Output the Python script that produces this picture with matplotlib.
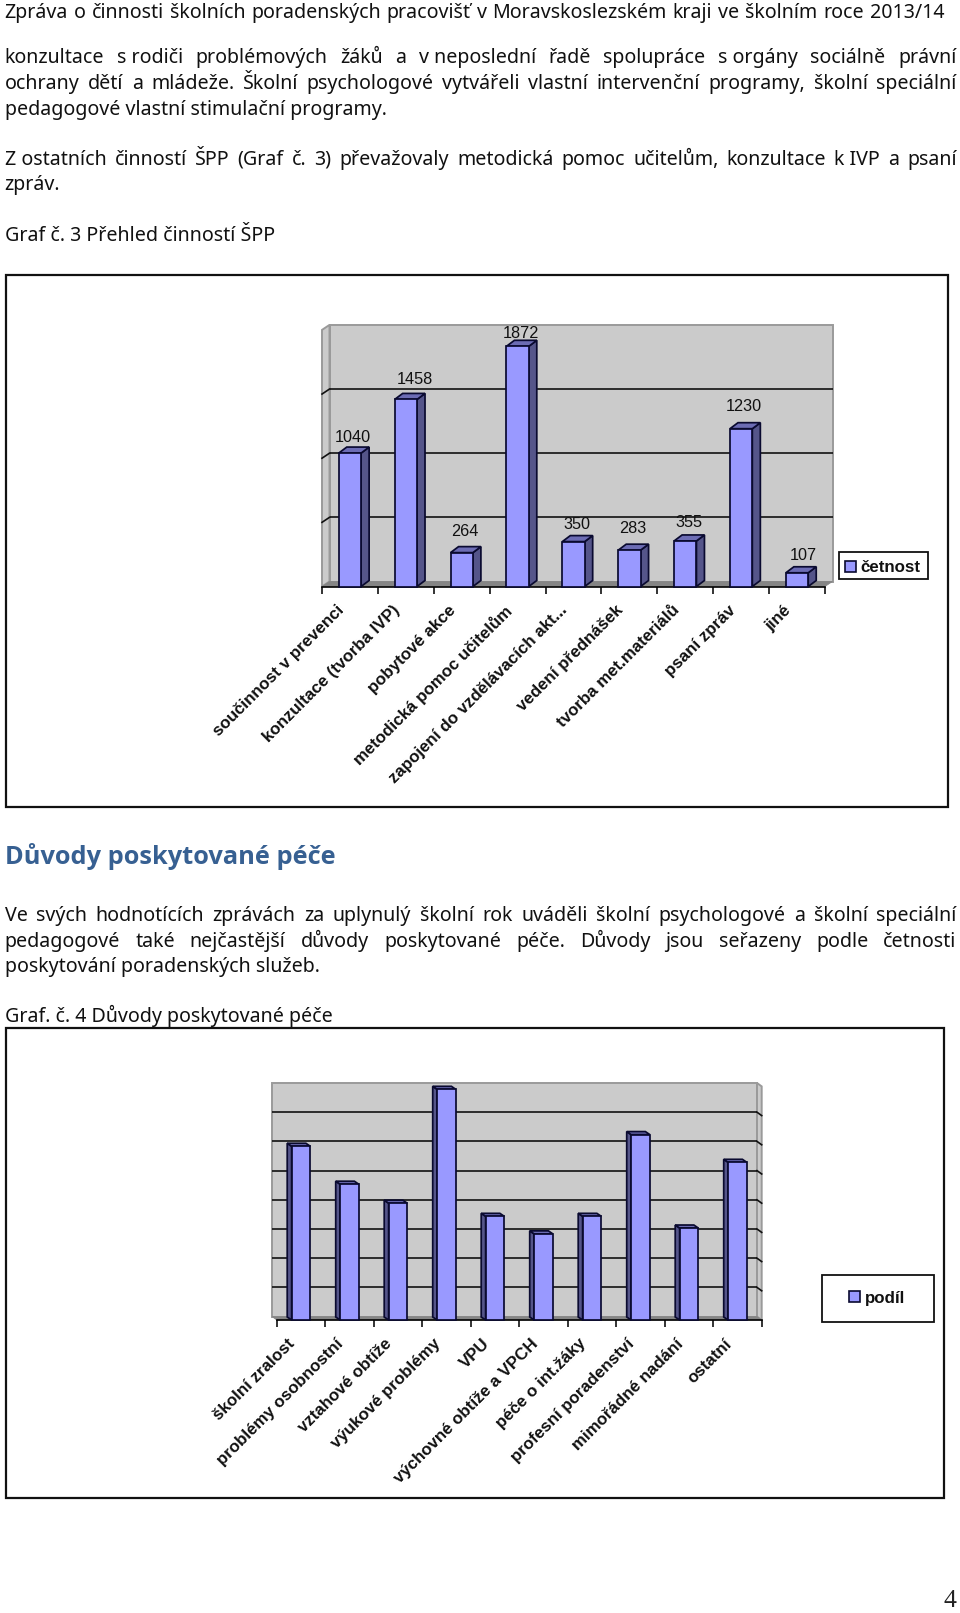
import matplotlib
matplotlib.use("Agg")
import matplotlib.pyplot as plt
from matplotlib.patches import Polygon, Rectangle, Patch
from matplotlib.transforms import Affine2D
import numpy as np

W, H = 960, 1613

# ---------- data ----------
cats1 = ["součinnost v prevenci", "konzultace (tvorba IVP)", "pobytové akce",
         "metodická pomoc učitelům", "zapojení do vzdělávacích akt...",
         "vedení přednášek", "tvorba met.materiálů", "psaní zpráv", "jiné"]
vals1 = [1040, 1458, 264, 1872, 350, 283, 355, 1230, 107]
series1 = "četnost"

cats2 = ["školní zralost", "problémy osobnostní", "vztahové obtíže",
         "výukové problémy", "VPU", "výchovné obtíže a VPCH", "péče o int.žáky",
         "profesní poradenství", "mimořádné nadání", "ostatní"]
vals2 = [11.9, 9.3, 8.0, 15.8, 7.1, 5.9, 7.1, 12.7, 6.3, 10.8]
series2 = "podíl"

header = "Zpráva o činnosti školních poradenských pracovišť v Moravskoslezském kraji ve školním roce 2013/14"
heading = "Důvody poskytované péče"
# (text, baseline, justified)
body = [
    ("konzultace s~rodiči problémových žáků a v~neposlední řadě spolupráce s~orgány sociálně právní", 63.3, True),
    ("ochrany dětí a mládeže. Školní psychologové vytvářeli vlastní intervenční programy, školní speciální", 89.3, True),
    ("pedagogové vlastní stimulační programy.", 115, False),
    ("Z~ostatních činností ŠPP (Graf č. 3) převažovaly metodická pomoc učitelům, konzultace k~IVP a psaní", 165, True),
    ("zpráv.", 190, False),
    ("Graf č. 3 Přehled činností ŠPP", 241, False),
    ("Ve svých hodnotících zprávách za uplynulý školní rok uváděli školní psychologové a školní speciální", 921, True),
    ("pedagogové také nejčastější důvody poskytované péče. Důvody jsou seřazeny podle četnosti", 946.7, True),
    ("poskytování poradenských služeb.", 972.3, False),
    ("Graf. č. 4 Důvody poskytované péče", 1021.7, False),
]

# ---------- style ----------
BODY_FONT = "Noto Sans"
HEAD_FONT = "Open Sans"
CHART_FONT = "Liberation Sans"
WALL, WALL_EDGE, FLOOR = "#CBCBCB", "#9A9A9A", "#858585"
FRONT, SIDE, TOP = "#9999FF", "#55558A", "#6C6CB4"
LW = 1.25

fig = plt.figure(figsize=(W / 100, H / 100), dpi=100, facecolor="white")
px = Affine2D().scale(1 / W, -1 / H).translate(0, 1) + fig.transFigure
renderer = fig.canvas.get_renderer()


def text_width(t):
    return t.get_window_extent(renderer).width


def fit_size(s, width, **kw):
    size = 14.0
    for _ in range(4):
        t = fig.text(0, 0, s, fontsize=size, **kw)
        size *= width / text_width(t)
        t.remove()
    return size


body_size = fit_size(header, 932, family=BODY_FONT)


def justified(line, y, left, right):
    words = [w.replace("~", " ") for w in line.split(" ")]
    ts = [fig.text(0, y, w, transform=px, family=BODY_FONT, fontsize=body_size,
                   color="#111111", va="baseline") for w in words]
    widths = [text_width(t) for t in ts]
    gap = (right - left - sum(widths)) / (len(words) - 1)
    x = left
    for t, w in zip(ts, widths):
        t.set_x(x)
        x += w + gap


justified(header, 18.3, 4.7, 944.3)

head_size = fit_size(heading, 330, family=HEAD_FONT, fontweight="bold")
fig.text(5, 864.3, heading, transform=px, family=HEAD_FONT, fontweight="bold",
         fontsize=head_size, color="#376092", va="baseline")

L, R = 4.7, 956.5
for line, y, just in body:
    if just:
        justified(line, y, L, R)
    else:
        fig.text(L, y, line.replace("~", " "), transform=px, family=BODY_FONT, fontsize=body_size,
                 color="#111111", va="baseline")

fig.text(956, 1607, "4", transform=px, family="Liberation Serif", fontsize=18.5, ha="right", va="baseline", color="#222222")

# chart frames
for x0, y0, x1, y1 in [(5.5, 275, 948, 807), (5.5, 1028, 944, 1498)]:
    fig.add_artist(Rectangle((x0, y0), x1 - x0, y1 - y0, transform=px, fc="none", ec="#111111", lw=1.6))


def chart(left, right, base, top, cats, vals, vmax, step, wall_d, bar_d, width,
          val_offsets=None):
    ax = fig.add_axes([left / W, 1 - base / H, (right - left) / W, (base - top) / H])
    n = len(cats)
    ax.set_xlim(-0.5, n - 0.5)
    ax.set_ylim(0, vmax)
    ax.patch.set_visible(False)
    for s in ("left", "right", "top"):
        ax.spines[s].set_visible(False)
    ax.spines["bottom"].set_linewidth(1.2)
    xu = n / (right - left)
    yu = vmax / (base - top)
    x0, x1 = -0.5, n - 0.5
    dx, dy = wall_d[0] * xu, wall_d[1] * yu

    # wall, floor, side wall
    ax.add_patch(Polygon([(x0 + dx, dy), (x1 + dx, dy), (x1 + dx, vmax + dy), (x0 + dx, vmax + dy)],
                         fc=WALL, ec=WALL_EDGE, lw=1.4, clip_on=False, zorder=1))
    ax.add_patch(Polygon([(x0, 0), (x1, 0), (x1 + dx, dy), (x0 + dx, dy)],
                         fc=FLOOR, ec=FLOOR, lw=0.5, clip_on=False, zorder=1.2))
    sx = x0 if dx > 0 else x1
    ax.add_patch(Polygon([(sx, 0), (sx + dx, dy), (sx + dx, vmax + dy), (sx, vmax)],
                         fc=WALL, ec=WALL_EDGE, lw=1.4, clip_on=False, zorder=1.1))
    # gridlines on wall and side wall
    levels = np.arange(step, vmax, step)
    ax.hlines(levels + dy, x0 + dx, x1 + dx, colors="#111111", lw=1.2, zorder=2, clip_on=False)
    for lv in levels:
        ax.plot([sx, sx + dx], [lv, lv + dy], color="#111111", lw=1.2, zorder=2, clip_on=False)

    # 3D bars
    bx = np.arange(n)
    ax.bar(bx, vals, width=width, color=FRONT, edgecolor="#0A0A30", lw=LW, zorder=5, clip_on=False)
    bdx, bdy = bar_d[0] * xu, bar_d[1] * yu
    for xi, v in zip(bx, vals):
        a, b = xi - width / 2, xi + width / 2
        e = b if bdx > 0 else a
        ax.add_patch(Polygon([(e, 0), (e + bdx, bdy), (e + bdx, v + bdy), (e, v)],
                             fc=SIDE, ec="#0A0A30", lw=LW, zorder=4, clip_on=False))
        ax.add_patch(Polygon([(a, v), (b, v), (b + bdx, v + bdy), (a + bdx, v + bdy)],
                             fc=TOP, ec="#0A0A30", lw=LW, zorder=4, clip_on=False))

    # category axis: boundary ticks, labels at centres
    ax.set_yticks([])
    ax.set_xticks(np.arange(n + 1) - 0.5, minor=True)
    ax.tick_params(axis="x", which="minor", length=5.2, width=1.2, color="#111111")
    ax.set_xticks(bx)
    ax.set_xticklabels(cats, rotation=45, ha="right", va="top", rotation_mode="anchor",
                       family=CHART_FONT, fontweight="bold", fontsize=12.2, color="#111111")
    ax.tick_params(axis="x", which="major", length=0, pad=11.5)
    # the labels sit left of the category centre
    shift = Affine2D().translate(-13.5, 0)
    for lb in ax.get_xticklabels():
        lb.set_transform(lb.get_transform() + shift)

    if val_offsets is not None:
        for xi, v, (ox, oy) in zip(bx, vals, val_offsets):
            ax.annotate(str(v), (xi, v), xytext=(ox, oy - 1.5), textcoords="offset pixels",
                        ha="center", va="center", family=CHART_FONT, fontsize=11.7,
                        color="#111111", zorder=6, annotation_clip=False)
    return ax


label_offsets1 = [(3.3, 16.7), (9, 21), (3.3, 23), (3, 14), (3, 18.7), (3, 22.7), (3.7, 19.7), (3, 24), (6.6, 19)]
chart(322, 825, 586.5, 329.9, cats1, vals1, 2000, 500, (7.5, 5), (8, 6), 0.40, label_offsets1)
chart(276.7, 761.7, 1320, 1086.4, cats2, vals2, 16, 2, (-4.7, 3.4), (-4.4, 3), 0.385)


def legend_box(x0, y0, x1, y1, label, nudge):
    fig.add_artist(Rectangle((x0, y0), x1 - x0, y1 - y0, transform=px, fc="white", ec="#111111", lw=1.3))
    fig.legend(handles=[Patch(fc=FRONT, ec="#0A0A30", lw=1.2, label=label)],
               loc="center", bbox_to_anchor=((x0 + x1) / 2 / W - 1 / W, 1 - ((y0 + y1) / 2 + nudge) / H),
               frameon=False, handlelength=0.68, handleheight=0.68, handletextpad=0.25,
               borderpad=0, prop={"family": CHART_FONT, "weight": "bold", "size": 12.2},
               labelcolor="#111111")


legend_box(839, 551.7, 928.3, 579.3, series1, 2.5)
legend_box(821.7, 1275, 934, 1322, series2, -0.5)

fig.savefig("out.png", dpi=100, facecolor="white")
